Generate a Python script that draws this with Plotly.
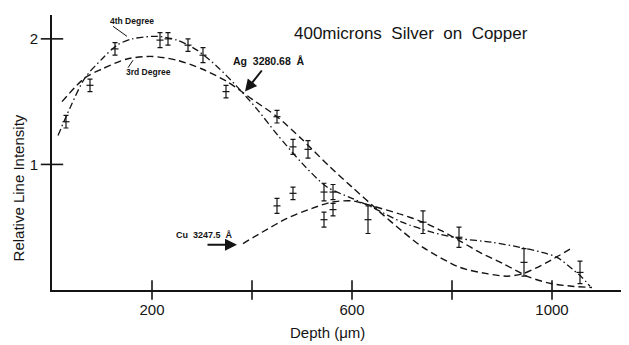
import plotly.graph_objects as go

# ---- data ----
ag_depth = [28, 76, 126, 216, 232, 272, 302, 348, 450, 482, 512, 544, 562, 632, 742, 814, 944, 1056]
ag_value = [1.34, 1.63, 1.92, 1.99, 2.00, 1.95, 1.87, 1.58, 1.38, 1.14, 1.12, 0.78, 0.78, 0.56, 0.54, 0.42, 0.22, 0.14]
ag_err = [0.05, 0.05, 0.05, 0.06, 0.05, 0.05, 0.06, 0.05, 0.05, 0.06, 0.07, 0.07, 0.06, 0.11, 0.09, 0.08, 0.11, 0.09]

cu_depth = [450, 482, 544, 562]
cu_value = [0.67, 0.77, 0.56, 0.64]
cu_err = [0.06, 0.05, 0.06, 0.05]

fit4_depth = [12, 36, 66, 100, 130, 160, 210, 250, 290, 330, 370, 410, 450, 500, 550, 600, 640, 700, 760, 816, 880, 936, 980, 1010, 1040, 1060, 1076]
fit4_value = [1.23, 1.45, 1.69, 1.84, 1.95, 2.00, 2.02, 1.99, 1.91, 1.78, 1.62, 1.44, 1.24, 1.01, 0.82, 0.73, 0.66, 0.54, 0.46, 0.41, 0.38, 0.34, 0.30, 0.26, 0.17, 0.10, 0.03]

fit3_depth = [20, 66, 100, 150, 200, 250, 300, 350, 400, 450, 500, 556, 600, 656, 700, 742, 816, 870, 910, 942, 990, 1042]
fit3_value = [1.50, 1.69, 1.76, 1.84, 1.86, 1.83, 1.76, 1.66, 1.52, 1.38, 1.20, 0.98, 0.82, 0.62, 0.47, 0.34, 0.18, 0.13, 0.11, 0.13, 0.22, 0.34]

cu_fit_depth = [382, 420, 470, 520, 560, 600, 640, 700, 742, 780, 816, 860, 902, 956, 1000, 1040, 1080]
cu_fit_value = [0.37, 0.46, 0.57, 0.65, 0.70, 0.71, 0.67, 0.60, 0.54, 0.47, 0.39, 0.29, 0.21, 0.10, 0.05, 0.03, 0.02]

x_ticks = [200, 400, 600, 800, 1000, 1146]
x_tick_labels = ["200", "", "600", "", "1000", ""]
y_ticks = [1, 2]
y_tick_labels = ["1", "2"]

INK = "#141414"
FONT = "Liberation Sans, Arial, sans-serif"

fig = go.Figure()

fig.add_trace(go.Scatter(x=fit4_depth, y=fit4_value, mode="lines",
                         line=dict(color=INK, width=1.3, dash="7px,3px,1.5px,3px", shape="spline", smoothing=0.8),
                         hoverinfo="skip"))
fig.add_trace(go.Scatter(x=fit3_depth, y=fit3_value, mode="lines",
                         line=dict(color=INK, width=1.4, dash="7px,4px", shape="spline", smoothing=0.8),
                         hoverinfo="skip"))
fig.add_trace(go.Scatter(x=cu_fit_depth, y=cu_fit_value, mode="lines",
                         line=dict(color=INK, width=1.4, dash="7px,4px", shape="spline", smoothing=0.8),
                         hoverinfo="skip"))

for xs, ys, es in [(ag_depth, ag_value, ag_err), (cu_depth, cu_value, cu_err)]:
    fig.add_trace(go.Scatter(x=xs, y=ys, mode="markers",
                             marker=dict(symbol="line-ew", size=5, line=dict(color=INK, width=1.2)),
                             error_y=dict(type="data", array=es, visible=True, color=INK, thickness=1.2, width=2.5),
                             hoverinfo="skip"))

# axis tick marks crossing the axes
fig.add_trace(go.Scatter(x=x_ticks, y=[0] * len(x_ticks), mode="markers", cliponaxis=False,
                         marker=dict(symbol="line-ns", size=14, line=dict(color=INK, width=1.6)),
                         hoverinfo="skip"))
fig.add_trace(go.Scatter(x=[0] * len(y_ticks), y=y_ticks, mode="markers", cliponaxis=False,
                         marker=dict(symbol="line-ew", size=16, line=dict(color=INK, width=1.6)),
                         hoverinfo="skip"))

# page body has an 8px margin: shrink the figure so the plot lands where the reference has it
fig.update_layout(
    width=621, height=337,
    margin=dict(l=44, r=4, t=7, b=55),
    paper_bgcolor="white", plot_bgcolor="white",
    showlegend=False,
    font=dict(family=FONT, color=INK),
    xaxis=dict(range=[0, 1146], showgrid=False, zeroline=False,
               showline=True, linecolor=INK, linewidth=2,
               tickvals=x_ticks, ticktext=x_tick_labels, ticks="",
               tickfont=dict(size=15, family=FONT, color=INK), ticklabelstandoff=5),
    yaxis=dict(range=[0, 2.19], showgrid=False, zeroline=False,
               showline=True, linecolor=INK, linewidth=2,
               tickvals=y_ticks, ticktext=y_tick_labels, ticks="",
               tickfont=dict(size=15, family=FONT, color=INK), ticklabelstandoff=9),
)

ann = [
    dict(x=480, y=2.04, text="400microns  Silver  on  Copper", xanchor="left", yanchor="middle",
         font=dict(size=17)),
    dict(x=160, y=2.14, text="<b>4th Degree</b>", yanchor="middle", font=dict(size=8.5)),
    dict(x=192, y=1.74, text="<b>3rd Degree</b>", yanchor="middle", font=dict(size=8.5)),
    dict(x=358, y=1.82, text="<b>Ag  3280.68  Å</b>", xanchor="left", yanchor="middle", font=dict(size=10.5)),
    dict(x=304, y=0.44, text="<b>Cu  3247.5  Å</b>", yanchor="middle", font=dict(size=9)),
    dict(x=-0.059, y=0.37, xref="paper", yref="paper", text="Relative Line Intensity", textangle=-90,
         xanchor="center", yanchor="middle", font=dict(size=15)),
    dict(x=0.48, y=-0.156, xref="paper", yref="paper", text="Depth (μm)",
         xanchor="center", yanchor="middle", font=dict(size=15)),
]
for a in ann:
    a.setdefault("showarrow", False)
    a.setdefault("xref", "x")
    a.setdefault("yref", "y")
    fig.add_annotation(**a)

# arrows
fig.add_annotation(x=386, y=1.58, ax=422, ay=1.76, xref="x", yref="y", axref="x", ayref="y",
                   text="", showarrow=True, arrowhead=2, arrowsize=1.2, arrowwidth=2, arrowcolor=INK)
fig.add_annotation(x=370, y=0.36, ax=308, ay=0.36, xref="x", yref="y", axref="x", ayref="y",
                   text="", showarrow=True, arrowhead=2, arrowsize=1.2, arrowwidth=2, arrowcolor=INK)
# leader lines
fig.add_shape(type="line", x0=122, y0=2.10, x1=150, y1=2.02, line=dict(color=INK, width=1))
fig.add_shape(type="line", x0=162, y0=1.83, x1=152, y1=1.77, line=dict(color=INK, width=1))

fig.write_html("out.html")
